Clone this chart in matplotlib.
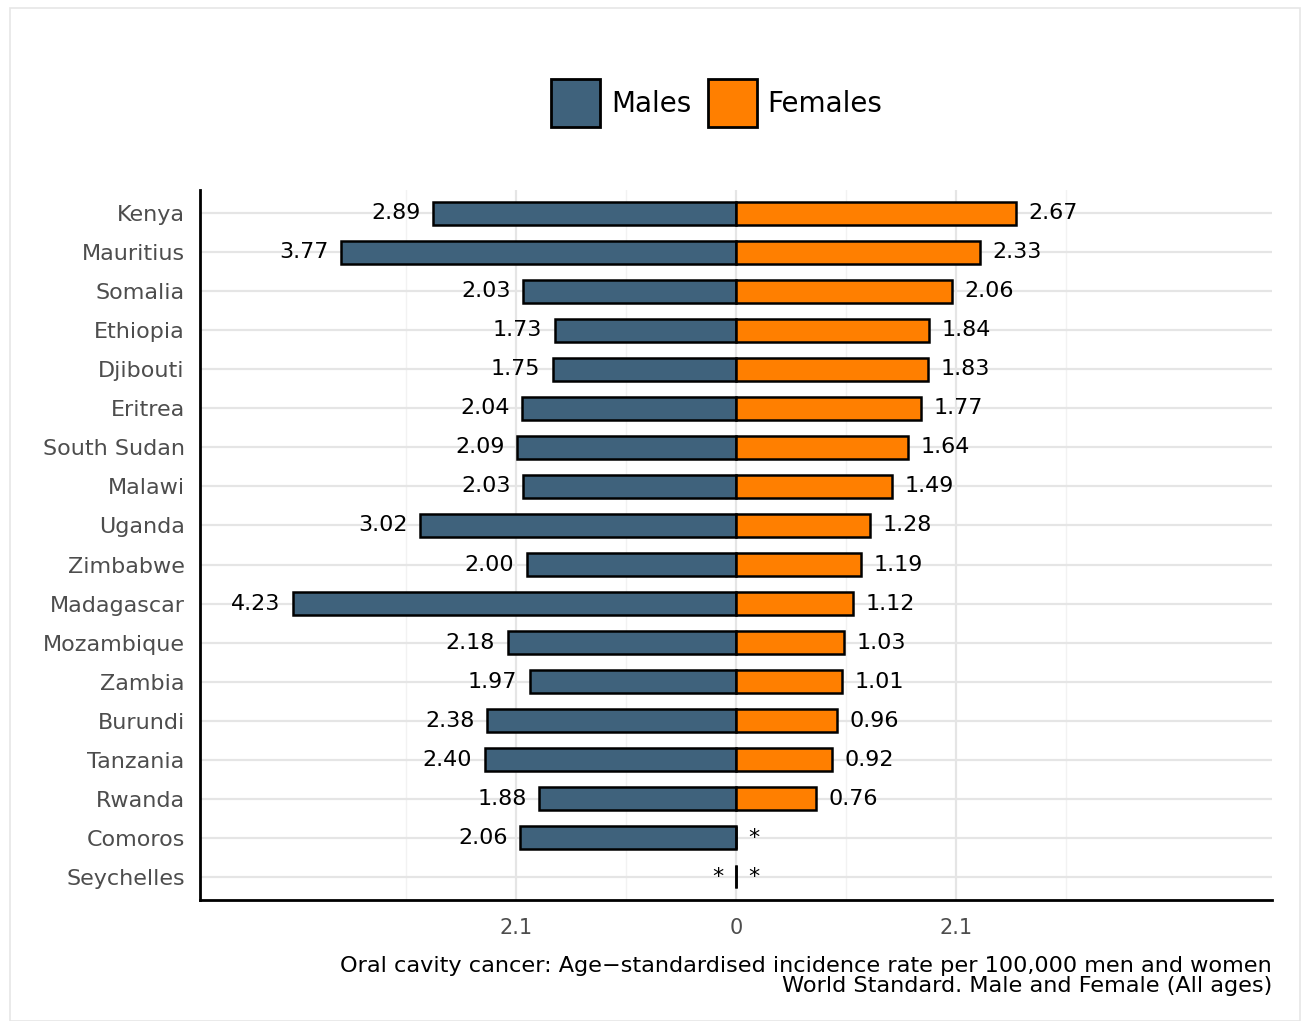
import numpy as np
import matplotlib
matplotlib.use("Agg")
import matplotlib.pyplot as plt
from matplotlib.patches import Rectangle, Patch

# data (top to bottom as in the chart)
countries = ['Kenya', 'Mauritius', 'Somalia', 'Ethiopia', 'Djibouti', 'Eritrea',
             'South Sudan', 'Malawi', 'Uganda', 'Zimbabwe', 'Madagascar',
             'Mozambique', 'Zambia', 'Burundi', 'Tanzania', 'Rwanda', 'Comoros',
             'Seychelles']
males = [2.89, 3.77, 2.03, 1.73, 1.75, 2.04, 2.09, 2.03, 3.02, 2.00, 4.23,
         2.18, 1.97, 2.38, 2.40, 1.88, 2.06, None]
females = [2.67, 2.33, 2.06, 1.84, 1.83, 1.77, 1.64, 1.49, 1.28, 1.19, 1.12,
           1.03, 1.01, 0.96, 0.92, 0.76, None, None]
xticks = [-2.1, 0, 2.1]
xticklabels = ['2.1', '0', '2.1']

male_col = '#3f627c'
female_col = '#ff7f00'

fig = plt.figure(figsize=(13.11, 10.21), dpi=100)
ax = fig.add_axes([200/1311, 1 - 900/1021, 1072/1311, 710/1021])

n = len(countries)
y = np.arange(n)[::-1]
h = 0.6

for yi, m, f in zip(y, males, females):
    mv = m if m is not None else 0
    fv = f if f is not None else 0
    ax.barh(yi, -mv, height=h, color=male_col, edgecolor='black', linewidth=1.8, zorder=3)
    ax.barh(yi, fv, height=h, color=female_col, edgecolor='black', linewidth=1.8, zorder=3)
    # value labels, '*' where no data
    ax.text(-mv - 0.12, yi, f'{m:.2f}' if m is not None else '*', ha='right', va='center',
            fontsize=16, zorder=4)
    ax.text(fv + 0.12, yi, f'{f:.2f}' if f is not None else '*', ha='left', va='center',
            fontsize=16, zorder=4)

ax.set_xlim(-5.12, 5.12)
ax.set_ylim(-0.6, n - 0.4)
ax.set_yticks(y)
ax.set_yticklabels(countries, fontsize=16, color='#4d4d4d')
ax.set_xticks(xticks)
ax.set_xticklabels(xticklabels, fontsize=15, color='#4d4d4d')
ax.set_xticks([-3.15, -1.05, 1.05, 3.15], minor=True)
ax.tick_params(axis='both', which='both', length=0)
ax.tick_params(axis='y', pad=11)
ax.tick_params(axis='x', pad=13)
ax.grid(True, which='major', color='#e5e5e5', linewidth=1.6, zorder=0)
ax.grid(True, which='minor', axis='x', color='#f2f2f2', linewidth=1.0, zorder=0)
for s in ['top', 'right']:
    ax.spines[s].set_visible(False)
for s in ['left', 'bottom']:
    ax.spines[s].set_linewidth(2)

ax.set_xlabel('Oral cavity cancer: Age\u2212standardised incidence rate per 100,000 men and women\n'
              'World Standard. Male and Female (All ages)',
              fontsize=16.1, loc='right', multialignment='right', linespacing=0.97, labelpad=13)

handles = [Patch(facecolor=male_col, edgecolor='black', linewidth=2, label='Males'),
           Patch(facecolor=female_col, edgecolor='black', linewidth=2, label='Females')]
fig.legend(handles=handles, loc='center', bbox_to_anchor=(717/1311, 1 - 103/1021),
           ncol=2, frameon=False, fontsize=20, handlelength=1.75, handleheight=2.25,
           handletextpad=0.4, columnspacing=0.6)

fig.patches.append(Rectangle((10/1311, 0), 1290/1311, 1 - 8/1021, transform=fig.transFigure,
                             fill=False, edgecolor='#e6e6e6', linewidth=1.2))

fig.savefig('out.png', dpi=100)
